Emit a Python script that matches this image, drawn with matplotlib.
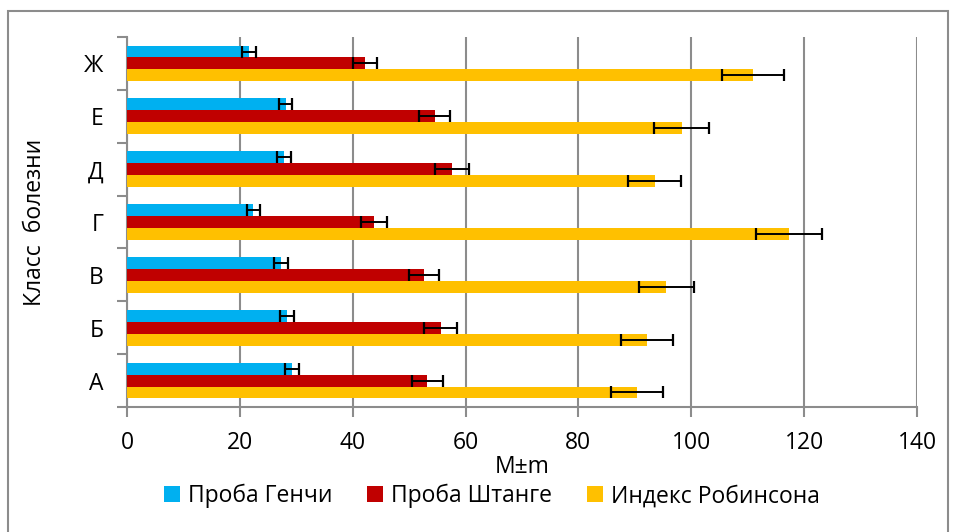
import matplotlib
matplotlib.use("Agg")
import matplotlib.pyplot as plt
from matplotlib.patches import Rectangle
import numpy as np

categories = ["А", "Б", "В", "Г", "Д", "Е", "Ж"]
series_names = ["Проба Генчи", "Проба Штанге", "Индекс Робинсона"]
genchi = [29.3, 28.4, 27.3, 22.4, 27.8, 28.1, 21.6]
genchi_err = [1.24, 1.2, 1.24, 1.2, 1.2, 1.2, 1.2]
shtange = [53.2, 55.6, 52.6, 43.8, 57.6, 54.5, 42.2]
shtange_err = [2.75, 2.9, 2.7, 2.25, 3.0, 2.75, 2.1]
robinson = [90.4, 92.1, 95.6, 117.3, 93.5, 98.3, 110.9]
robinson_err = [4.55, 4.6, 4.8, 5.9, 4.7, 4.9, 5.5]
xticks = [0, 20, 40, 60, 80, 100, 120, 140]

colors = ["#00B0F0", "#C00000", "#FFC000"]
grid_c = "#8C8C8C"

plt.rcParams['font.family'] = ['Open Sans', 'DejaVu Sans']
FS = 16.5

W, H = 955, 532
fig = plt.figure(figsize=(W / 100, H / 100), dpi=100)
ax = fig.add_axes([127 / W, (H - 407) / H, (917 - 127) / W, (407 - 37) / H])

fig.patches.append(Rectangle((7.5 / W, -0.01), (948 - 7.5) / W, (H - 11) / H + 0.01,
                             transform=fig.transFigure, fill=False,
                             edgecolor="#8C8C8C", linewidth=1.5))

y = np.arange(len(categories))
h = 0.225
data = [(genchi, genchi_err, h), (shtange, shtange_err, 0.0), (robinson, robinson_err, -h)]
for (vals, errs, off), c, name in zip(data, colors, series_names):
    ax.barh(y + off, vals, height=h, color=c, label=name, zorder=3)
    ax.errorbar(vals, y + off, xerr=errs, fmt="none", ecolor="black",
                elinewidth=1.4, capsize=4.5, capthick=1.6, zorder=4)

ax.set_xlim(0, 140)
ax.set_ylim(-0.5, len(categories) - 0.5)
ax.set_xticks(xticks)
ax.set_xticklabels([str(t) for t in xticks], fontsize=FS)
ax.set_yticks(y)
ax.set_yticklabels(categories, fontsize=FS)
ax.set_yticks(np.arange(-0.5, len(categories), 1.0), minor=True)
ax.tick_params(axis="y", which="major", length=0, pad=17)
ax.tick_params(axis="y", which="minor", length=7, width=1.5, color=grid_c)
ax.tick_params(axis="x", which="major", length=7, width=1.5, color=grid_c, pad=10)
ax.grid(axis="x", color=grid_c, linewidth=1.5, zorder=0)
for s in ["top", "right"]:
    ax.spines[s].set_visible(False)
for s in ["left", "bottom"]:
    ax.spines[s].set_color(grid_c)
    ax.spines[s].set_linewidth(1.5)

ax.set_xlabel("M±m", fontsize=FS, labelpad=0)
ax.set_ylabel("Класс  болезни", fontsize=FS, labelpad=27)

handles, labels = ax.get_legend_handles_labels()
fig.legend(handles, labels, loc="center", bbox_to_anchor=(492 / W, (H - 496) / H),
           ncol=3, frameon=False, fontsize=FS, handlelength=0.7, handleheight=0.7,
           handletextpad=0.35, columnspacing=1.5)

fig.savefig("out.png", dpi=100, facecolor="white")
